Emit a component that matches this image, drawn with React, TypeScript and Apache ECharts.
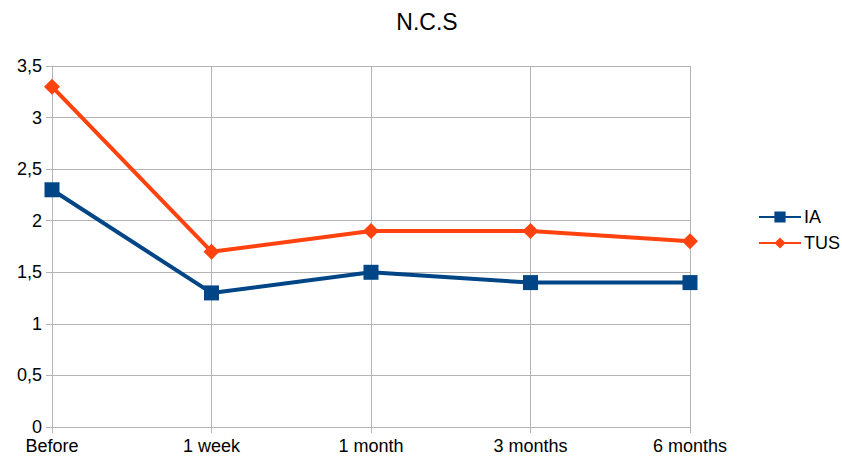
import React, { useEffect, useRef } from "react";
import * as echarts from "echarts";

const categories = ["Before", "1 week", "1 month", "3 months", "6 months"];
const iaValues = [2.3, 1.3, 1.5, 1.4, 1.4];
const tusValues = [3.3, 1.7, 1.9, 1.9, 1.8];
const chartTitle = "N.C.S";

const FONT = "'Liberation Sans', Arial, sans-serif";

export default function App() {
  const ref = useRef<HTMLDivElement>(null);

  useEffect(() => {
    if (!ref.current) return;
    const chart = echarts.init(ref.current, null, { renderer: "svg" });
    chart.setOption({
      animation: false,
      backgroundColor: "#ffffff",
      textStyle: { fontFamily: FONT },
      title: {
        text: chartTitle,
        left: 422,
        top: 5,
        textAlign: "center",
        textStyle: { fontFamily: FONT, fontSize: 23, fontWeight: "normal", color: "#000" },
      },
      legend: {
        orient: "vertical",
        left: 753,
        top: 203,
        itemGap: 8,
        itemWidth: 42,
        itemHeight: 14,
        textStyle: { fontFamily: FONT, fontSize: 18, color: "#000", padding: [0, 0, 0, -2] },
        data: ["IA", "TUS"],
      },
      grid: { left: 52, right: 152, top: 66, bottom: 34 },
      xAxis: {
        type: "category",
        data: categories,
        boundaryGap: false,
        axisLine: { lineStyle: { color: "#b3b3b3", width: 1 } },
        axisTick: { show: true, length: 6, lineStyle: { color: "#b3b3b3" } },
        axisLabel: { fontFamily: FONT, fontSize: 18, color: "#000", margin: 10 },
        splitLine: { show: true, lineStyle: { color: "#b3b3b3", width: 1 } },
      },
      yAxis: {
        type: "value",
        min: 0,
        max: 3.5,
        interval: 0.5,
        axisLine: { show: true, lineStyle: { color: "#b3b3b3", width: 1 } },
        axisTick: { show: true, length: 6, lineStyle: { color: "#b3b3b3" } },
        axisLabel: {
          fontFamily: FONT,
          fontSize: 18,
          color: "#000",
          margin: 10,
          formatter: (v: number) => String(v).replace(".", ","),
        },
        splitLine: { show: true, lineStyle: { color: "#b3b3b3", width: 1 } },
      },
      series: [
        {
          name: "IA",
          type: "line",
          data: iaValues,
          color: "#004586",
          symbol: "rect",
          symbolSize: 15,
          lineStyle: { width: 4, color: "#004586" },
          itemStyle: { color: "#004586" },
          z: 3,
        },
        {
          name: "TUS",
          type: "line",
          data: tusValues,
          color: "#ff420e",
          symbol: "diamond",
          symbolSize: 16,
          lineStyle: { width: 4, color: "#ff420e" },
          itemStyle: { color: "#ff420e" },
          z: 4,
        },
      ],
    });
    return () => chart.dispose();
  }, []);

  return <div ref={ref} style={{ position: "absolute", left: 0, top: 0, width: 842, height: 461 }} />;
}
